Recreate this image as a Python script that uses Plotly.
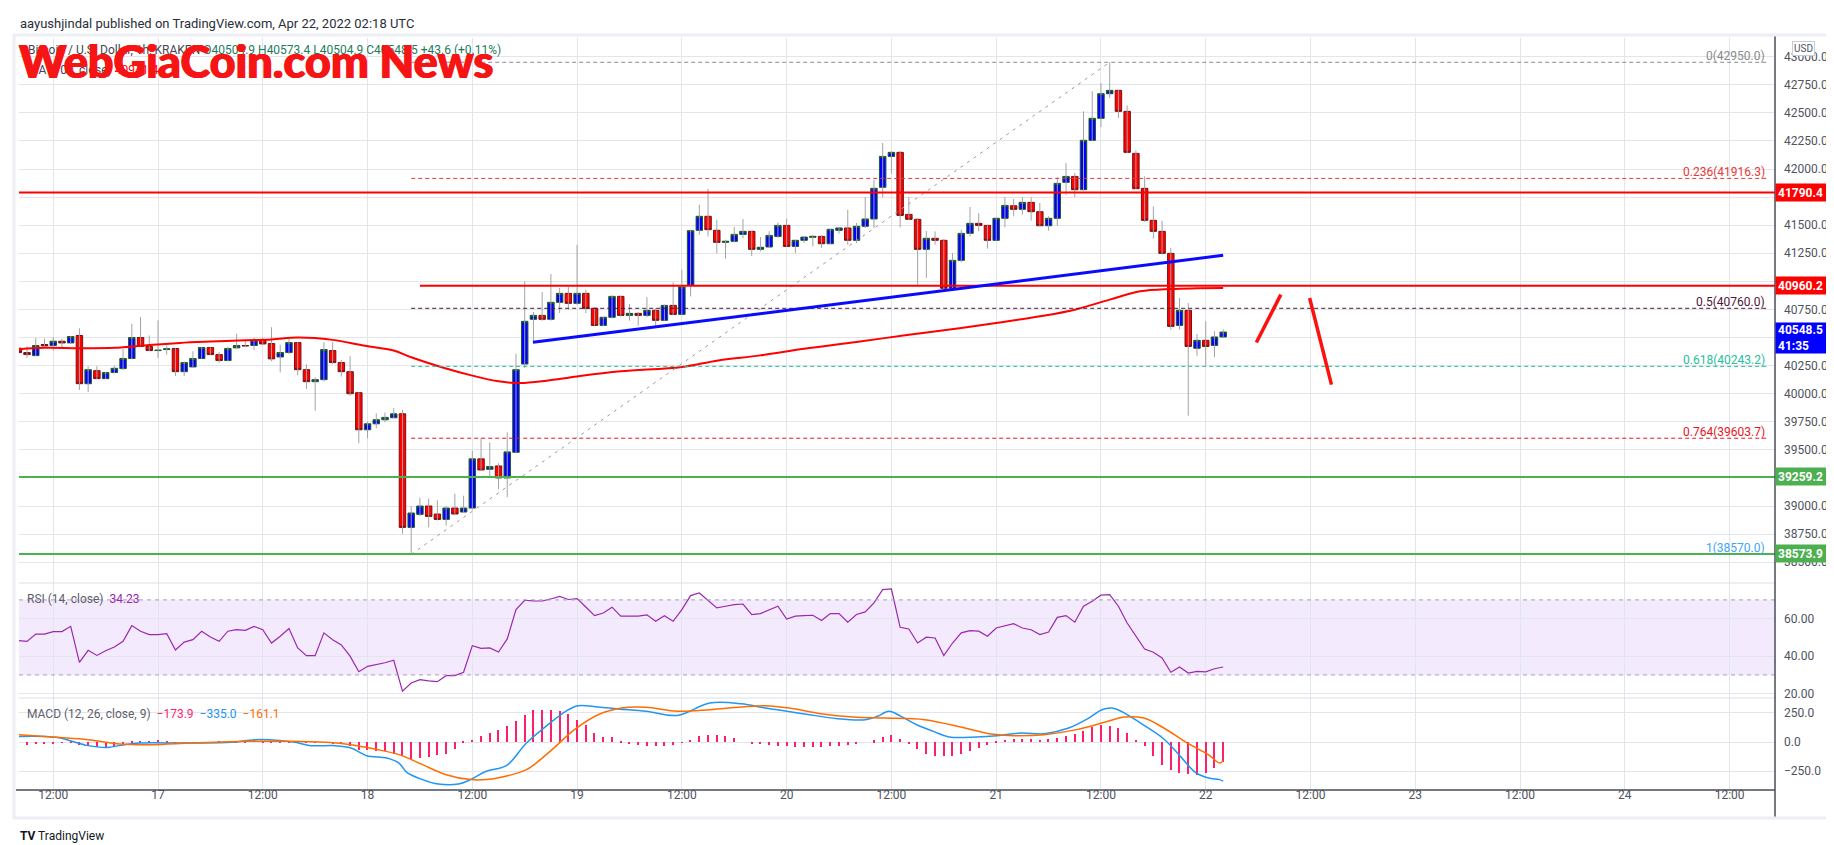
import pandas as pd
import plotly.graph_objects as go
from plotly.subplots import make_subplots

# hourly candles BTC/USD (Kraken), first candle 2022-04-16 08:00
t0 = pd.Timestamp("2022-04-16 08:00")

opens = [40405, 40366, 40339, 40438, 40429, 40467, 40452, 40518, 40089, 40205,
         40134, 40188, 40223, 40313, 40500, 40420, 40384, 40393, 40402, 40196,
         40238, 40313, 40411, 40348, 40295, 40408, 40429, 40429, 40476, 40446,
         40327, 40366, 40455, 40214, 40107, 40125, 40384, 40277, 40196, 40009,
         39679, 39732, 39768, 39786, 39821, 38810, 38926, 39000, 38929, 38881,
         38982, 38947, 38982, 39420, 39327, 39357, 39250, 39478, 40264, 40662,
         40697, 40662, 40813, 40893, 40804, 40893, 40760, 40608, 40680, 40866,
         40697, 40715, 40697, 40742, 40653, 40786, 40706, 40964, 41454, 41579,
         41454, 41347, 41356, 41418, 41445, 41285, 41306, 41400, 41498, 41311,
         41365, 41392, 41400, 41335, 41454, 41475, 41365, 41490, 41555, 41837,
         42112, 42148, 41596, 41552, 41285, 41383, 41365, 40938, 41187, 41427,
         41516, 41498, 41365, 41561, 41673, 41641, 41703, 41620, 41495, 41561,
         41881, 41934, 41816, 42255, 42451, 42670, 42700, 42513, 42139, 41828,
         41543, 41445, 41249, 40608, 40742, 40404, 40475, 40430, 40504.9]
highs = [40429, 40420, 40497, 40491, 40503, 40488, 40515, 40583, 40244, 40244,
         40193, 40250, 40399, 40622, 40682, 40518, 40652, 40429, 40405, 40286,
         40378, 40414, 40414, 40369, 40420, 40533, 40479, 40497, 40497, 40592,
         40435, 40491, 40461, 40262, 40146, 40458, 40458, 40301, 40333, 40012,
         39753, 39824, 39833, 39872, 39857, 39000, 39074, 39066, 39051, 39000,
         39110, 39092, 39491, 39604, 39566, 39381, 39655, 40356, 41000, 40727,
         40905, 41065, 40941, 40950, 41326, 40926, 40769, 40686, 40875, 40875,
         40798, 40727, 40860, 40763, 40792, 40991, 41104, 41460, 41682, 41822,
         41549, 41371, 41483, 41555, 41451, 41395, 41445, 41522, 41558, 41371,
         41400, 41412, 41409, 41469, 41481, 41638, 41519, 41751, 41905, 42231,
         42157, 42160, 41751, 41564, 41448, 41445, 41377, 41252, 41460, 41662,
         41608, 41504, 41570, 41751, 41733, 41748, 41748, 41697, 41579, 41928,
         42053, 41964, 42513, 42691, 42765, 42950, 42705, 42566, 42166, 41934,
         41667, 41540, 41297, 40852, 40807, 40531, 40644, 40555, 40573.4]
lows = [40354, 40318, 40336, 40408, 40384, 40408, 40443, 40033, 40015, 40131,
        40131, 40182, 40211, 40307, 40414, 40378, 40318, 40348, 40158, 40158,
        40235, 40310, 40345, 40274, 40289, 40405, 40414, 40390, 40429, 40289,
        40190, 40354, 40164, 40042, 39848, 40110, 40265, 40152, 39982, 39560,
        39604, 39693, 39744, 39783, 38753, 38570, 38911, 38810, 38872, 38825,
        38920, 38941, 38970, 39313, 39253, 39149, 39080, 39472, 40229, 40466,
        40650, 40650, 40718, 40748, 40792, 40718, 40605, 40602, 40668, 40686,
        40650, 40605, 40680, 40605, 40650, 40700, 40697, 40866, 41415, 41400,
        41249, 41202, 41347, 41386, 41225, 41267, 41297, 41386, 41306, 41252,
        41341, 41311, 41297, 41332, 41424, 41326, 41341, 41475, 41475, 41750,
        41958, 41480, 41543, 40970, 41030, 41326, 40932, 40932, 41169, 41400,
        41445, 41291, 41362, 41481, 41579, 41593, 41540, 41490, 41451, 41495,
        41771, 41750, 41807, 42252, 42374, 42632, 42454, 42142, 41822, 41528,
        41380, 41237, 40570, 40570, 39804, 40338, 40249, 40324, 40504.9]
closes = [40366, 40348, 40429, 40426, 40467, 40452, 40509, 40089, 40214, 40134,
          40188, 40226, 40313, 40500, 40420, 40384, 40387, 40399, 40196, 40277,
          40313, 40411, 40348, 40295, 40402, 40429, 40426, 40476, 40443, 40310,
          40366, 40455, 40214, 40107, 40125, 40393, 40277, 40196, 40000, 39679,
          39732, 39768, 39789, 39821, 38810, 38938, 39000, 38908, 38881, 38982,
          38929, 38982, 39420, 39321, 39351, 39250, 39482, 40214, 40644, 40697,
          40662, 40813, 40893, 40804, 40893, 40760, 40608, 40680, 40866, 40697,
          40715, 40697, 40742, 40653, 40786, 40706, 40950, 41451, 41579, 41460,
          41347, 41356, 41418, 41445, 41285, 41303, 41409, 41498, 41311, 41365,
          41394, 41400, 41335, 41463, 41475, 41365, 41490, 41555, 41828, 42112,
          42148, 41587, 41552, 41285, 41383, 41365, 40938, 41187, 41427, 41516,
          41498, 41365, 41561, 41676, 41641, 41703, 41620, 41495, 41561, 41872,
          41934, 41816, 42255, 42451, 42670, 42700, 42513, 42148, 41825, 41543,
          41445, 41249, 40599, 40742, 40421, 40475, 40421, 40504.9, 40548.5]

# MA(100) line, read at hour offsets from the first candle
ma_hours = [0, 3, 7, 11, 15, 18.5, 22, 26, 29, 32, 36, 39.5, 43, 45, 48.5, 52, 55,
            57.5, 60.5, 64, 69, 76, 80, 85, 90, 96, 102, 108, 112, 117, 121, 125,
            128.5, 132, 135, 138]
ma_vals = [40396, 40408, 40405, 40408, 40434, 40452, 40464, 40476, 40482, 40500,
           40479, 40429, 40384, 40324, 40235, 40161, 40110, 40095, 40116, 40154,
           40199, 40238, 40294, 40341, 40400, 40460, 40525, 40585, 40629, 40689,
           40748, 40837, 40911, 40932, 40938, 40941]

rsi = [48.3, 47.9, 51.8, 51.8, 53.1, 53.1, 55.9, 36.7, 43.1, 40.4,
       42.9, 44.9, 47.9, 56.3, 53.3, 51.5, 51.5, 52.0, 43.3, 47.5,
       48.8, 53.3, 50.2, 47.9, 53.3, 54.1, 53.8, 55.9, 54.1, 47.0,
       50.6, 54.7, 44.4, 40.3, 40.3, 52.4, 48.8, 46.0, 40.0, 31.7,
       34.6, 35.5, 36.5, 37.8, 21.3, 25.7, 27.5, 26.8, 26.4, 29.6,
       29.6, 31.4, 45.6, 44.2, 44.4, 42.2, 49.2, 64.8, 69.8, 69.5,
       69.4, 70.5, 71.9, 70.2, 70.7, 66.2, 61.6, 63.0, 66.1, 61.3,
       61.3, 61.3, 62.0, 58.6, 61.6, 58.6, 64.8, 72.3, 73.7, 69.8,
       65.7, 66.6, 67.5, 67.8, 62.1, 62.7, 64.8, 66.6, 59.8, 61.3,
       61.6, 61.8, 59.0, 62.7, 62.7, 58.1, 62.2, 63.6, 68.4, 75.5,
       75.8, 55.4, 54.5, 47.0, 50.1, 49.7, 40.3, 47.0, 52.4, 53.6,
       53.3, 50.6, 55.0, 56.3, 57.3, 55.0, 54.1, 51.5, 52.9, 60.7,
       61.6, 58.1, 66.6, 69.3, 72.5, 72.8, 66.6, 57.7, 50.6, 43.8,
       42.1, 39.0, 31.4, 34.2, 31.0, 31.9, 31.6, 33.3, 34.23]

macd_hist = [-28.5, -28.5, -17, -17, -11, -3, 3, -28, -37, -46,
             -46, -31, -9, 3, 6, 11, 20, 11, -3, -3,
             -6, -6, -3, 3, 6, 11, 11, 20, 11, -3,
             -3, -3, -3, -3, -6, -6, -11, -17, -37, -66,
             -66, -80, -80, -103, -123, -151, -137, -131, -108, -100,
             -57, 5, 20, 50, 75, 100, 135, 180, 234, 271,
             277, 277, 263, 243, 191, 148, 80, 40, 43, 10,
             -15, -25, -30, -35, -35, -25, -5, 20, 49, 63,
             57, 49, 34, 0, -15, -20, -25, -30, -35, -40,
             -40, -45, -40, -35, -30, -25, -10, 0, 15, 40,
             57, 25, -15, -60, -100, -123, -123, -118, -100, -75,
             -50, -25, 5, 20, 25, 25, 22, 18, 25, 35,
             50, 65, 95, 130, 150, 135, 120, 77, 20, -37,
             -123, -194, -237, -265, -271, -280, -265, -223, -173.9]

macd_hours = [0, 4.3, 8, 10.2, 12.1, 13.9, 19.8, 24.4, 27.1, 29.9, 31.7, 33.5,
              36.3, 38.1, 39.9, 42.2, 43.6, 44.5, 46.3, 48.1, 50.4, 51.8, 53.6,
              55.9, 58.2, 60.9, 62.7, 64.1, 66.4, 68.7, 71.9, 75.5, 79.2, 82.8,
              85.6, 90.1, 93.8, 97, 98.4, 99.7, 101.1, 102.9, 104.8, 106.6, 109.8,
              112.1, 114.8, 117.5, 120.3, 122.6, 124.1, 125.3, 126.7, 128.5,
              131.2, 133.1, 134.9, 136.3, 137.6, 138]
macd_vals = [48, 40, -31, -46, -23, -9, -9, -3, 20, 14, -3, -31,
             -31, -51, -117, -137, -180, -260, -322, -360, -360, -322, -251,
             -203, -9, 163, 263, 311, 300, 283, 263, 228, 334, 328,
             291, 240, 200, 191, 220, 263, 220, 148, 91, 43, 43,
             54, 77, 71, 120, 205, 277, 291, 248, 163,
             26, -123, -265, -308, -322, -335]
signal_hours = [0, 4.3, 8, 11.6, 15.3, 19.8, 26.2, 30.8, 35.3, 38.1, 40.8, 43.6,
                46.3, 49, 51.8, 53.6, 55.4, 58.2, 60.9, 63.7, 66.4, 69.1, 71.9,
                75.5, 79.2, 82.8, 85.6, 88.3, 91.9, 95.6, 99.3, 103.8, 108.4,
                111.2, 113.9, 117.5, 121.2, 124.8, 126.7, 128.9, 131.2, 133.9,
                136.3, 137.6, 138]
signal_vals = [63, 40, 20, -17, -23, -9, 6, 6, -3, -23, -60, -108,
               -194, -280, -322, -322, -300, -237, -80, 106, 234, 291, 297,
               263, 277, 300, 311, 291, 243, 214, 205, 191, 120,
               71, 54, 63, 106, 177, 214, 205, 120, -9,
               -108, -180, -161.1]

# drawings on the chart
fib_labels = ["0", "0.236", "0.5", "0.618", "0.764", "1"]
fib_prices = [42950.0, 41916.3, 40760.0, 40243.2, 39603.7, 38570.0]
fib_colors = ["#8a8a8a", "#e53935", "#4b1836", "#26c09a", "#e8141e", "#42a5f5"]
fib_start_hour = 45
fib_end_hour = 200.5
fib_diag = [(45, 38570.0), (125, 42950.0)]

red_levels = [41790.4, 40960.2]
red_level_start = [0, 46]
green_levels = [39259.2, 38573.9]
trend_line = [(58.95, 40457), (138, 41232)]
arrow_strokes = [[(141.8, 40456), (144.6, 40882)], [(147.9, 40852), (150.4, 40081)]]

tick_times = ["2022-04-16 12:00", "2022-04-17 00:00", "2022-04-17 12:00", "2022-04-18 00:00",
              "2022-04-18 12:00", "2022-04-19 00:00", "2022-04-19 12:00", "2022-04-20 00:00",
              "2022-04-20 12:00", "2022-04-21 00:00", "2022-04-21 12:00", "2022-04-22 00:00",
              "2022-04-22 12:00", "2022-04-23 00:00", "2022-04-23 12:00", "2022-04-24 00:00",
              "2022-04-24 12:00"]
tick_text = ["12:00", "17", "12:00", "18", "12:00", "19", "12:00", "20", "12:00",
             "21", "12:00", "22", "12:00", "23", "12:00", "24", "12:00"]
price_ticks = [38500 + 250 * i for i in range(19)]

W, H = 1834, 845
L, R, T, B = 11, 67, 30, 63
FONT = "Roboto, Arial, sans-serif"
GRID = "#e3e5ec"
TXT = "#50535e"


def at(h):
    return t0 + pd.Timedelta(hours=h)


def px(X):
    return (X - L) / (W - L - R)


def py(Y):
    return (H - B - Y) / (H - T - B)


times = pd.date_range(t0, periods=len(opens), freq="h")

fig = make_subplots(rows=3, cols=1, shared_xaxes=True, vertical_spacing=0)

# wicks
wx, wy = [], []
for t, hi, lo in zip(times, highs, lows):
    wx += [t, t, None]
    wy += [lo, hi, None]
fig.add_trace(go.Scatter(x=wx, y=wy, mode="lines", line=dict(color="#a3a3a3", width=1),
                         hoverinfo="skip", showlegend=False), row=1, col=1)

body_hi = [max(o, c) for o, c in zip(opens, closes)]
body_lo = [min(o, c) for o, c in zip(opens, closes)]
fig.add_trace(go.Candlestick(x=times, open=opens, close=closes, high=body_hi, low=body_lo,
                             increasing=dict(fillcolor="#0000ff", line=dict(color="#1e5a28", width=1)),
                             decreasing=dict(fillcolor="#ff0000", line=dict(color="#7a1010", width=1)),
                             whiskerwidth=0, showlegend=False), row=1, col=1)

fig.add_trace(go.Scatter(x=[at(h) for h in ma_hours], y=ma_vals, mode="lines",
                         line=dict(color="#ff0000", width=2, shape="spline"),
                         showlegend=False), row=1, col=1)

# RSI
fig.add_trace(go.Scatter(x=times, y=rsi, mode="lines", line=dict(color="#9c27b0", width=1.2),
                         showlegend=False), row=2, col=1)

# MACD
fig.add_trace(go.Bar(x=times, y=macd_hist, width=3600 * 1000 * 0.14,
                     marker=dict(color="#ff1e6e", line=dict(width=0)), showlegend=False),
              row=3, col=1)
fig.add_trace(go.Scatter(x=[at(h) for h in macd_hours], y=macd_vals, mode="lines",
                         line=dict(color="#2196f3", width=1.5, shape="spline"),
                         showlegend=False), row=3, col=1)
fig.add_trace(go.Scatter(x=[at(h) for h in signal_hours], y=signal_vals, mode="lines",
                         line=dict(color="#ff6d00", width=1.5, shape="spline"),
                         showlegend=False), row=3, col=1)

shapes = []
# RSI band
shapes.append(dict(type="rect", xref="paper", yref="y2", x0=0, x1=1, y0=30, y1=70,
                   fillcolor="rgba(149,76,233,0.11)", line=dict(width=0), layer="below"))
for lv in (70, 30):
    shapes.append(dict(type="line", xref="paper", yref="y2", x0=0, x1=1, y0=lv, y1=lv,
                       line=dict(color="#a79cbf", width=1, dash="4px,4px")))

# fib retracement
shapes.append(dict(type="line", xref="x", yref="y", x0=at(fib_diag[0][0]), y0=fib_diag[0][1],
                   x1=at(fib_diag[1][0]), y1=fib_diag[1][1],
                   line=dict(color="#9a9a9a", width=1, dash="3px,5px")))
for p, c in zip(fib_prices, fib_colors):
    shapes.append(dict(type="line", xref="x", yref="y", x0=at(fib_start_hour), x1=at(fib_end_hour),
                       y0=p, y1=p, line=dict(color=c, width=1, dash="4px,3px")))

# support / resistance lines
for lv, h0 in zip(red_levels, red_level_start):
    shapes.append(dict(type="line", xref="x", yref="y", x0=at(h0), x1=at(201.3), y0=lv, y1=lv,
                       line=dict(color="#ff0000", width=2)))
for lv in green_levels:
    shapes.append(dict(type="line", xref="x", yref="y", x0=at(0), x1=at(201.3), y0=lv, y1=lv,
                       line=dict(color="#4caf50", width=2)))
shapes.append(dict(type="line", xref="x", yref="y", x0=at(trend_line[0][0]), y0=trend_line[0][1],
                   x1=at(trend_line[1][0]), y1=trend_line[1][1],
                   line=dict(color="#0a0aff", width=3)))
for (a, b) in arrow_strokes:
    shapes.append(dict(type="line", xref="x", yref="y", x0=at(a[0]), y0=a[1], x1=at(b[0]), y1=b[1],
                       line=dict(color="#ff1010", width=3.5)))

# pane separators, axis lines, outer frame
for Y in (575, 690):
    shapes.append(dict(type="line", xref="paper", yref="paper", x0=0, x1=1, y0=py(Y), y1=py(Y),
                       line=dict(color="#dcdfe6", width=1)))
shapes.append(dict(type="line", xref="paper", yref="paper", x0=px(8), x1=1, y0=py(782), y1=py(782),
                   line=dict(color="#4a4d57", width=1.5)))
shapes.append(dict(type="line", xref="paper", yref="paper", x0=1, x1=1, y0=py(810), y1=py(28),
                   line=dict(color="#4a4d57", width=1.5)))
shapes.append(dict(type="line", xref="paper", yref="paper", x0=px(6), x1=px(1826), y0=py(27), y1=py(27),
                   line=dict(color="#e6e8ee", width=1.5)))
shapes.append(dict(type="rect", xref="paper", yref="paper", x0=px(6), x1=px(1824), y0=py(810), y1=py(27),
                   line=dict(color="#eceef4", width=3), fillcolor="rgba(0,0,0,0)"))

ann = []
ann.append(dict(xref="paper", yref="paper", x=px(10), y=py(15), xanchor="left", yanchor="middle",
                text="aayushjindal published on TradingView.com, Apr 22, 2022 02:18 UTC",
                showarrow=False, font=dict(size=13, color="#2a2e39")))
ann.append(dict(xref="paper", yref="paper", x=px(18), y=py(42), xanchor="left", yanchor="middle",
                text="Bitcoin / U.S. Dollar, 1h, KRAKEN <span style='color:#1e7a5a'>O40504.9 H40573.4 "
                     "L40504.9 C40548.5 +43.6 (+0.11%)</span>",
                showarrow=False, font=dict(size=12, color="#434651")))
ann.append(dict(xref="paper", yref="paper", x=px(18), y=py(62), xanchor="left", yanchor="middle",
                text="MA (100, close) <span style='color:#ff0000'>40941.4</span>",
                showarrow=False, font=dict(size=12, color="#434651")))
ann.append(dict(xref="paper", yref="paper", x=px(9), y=py(53), xanchor="left", yanchor="middle",
                text="WebGiaCoin.com News", showarrow=False,
                font=dict(size=45, color="#f71414", family="Lato, Arial, sans-serif", weight=900,
                          shadow="0.7px 0 0 #f71414, -0.7px 0 0 #f71414")))

# fib labels
for lab, p, c in zip(fib_labels, fib_prices, fib_colors):
    ann.append(dict(xref="paper", yref="y", x=px(1759), y=p, xanchor="right", yanchor="bottom",
                    yshift=-3, text=f"{lab}({p:.1f})", showarrow=False,
                    font=dict(size=12, color=c)))

# price tags on the right axis
tags = [(41790.4, "41790.4", "#ff0000"), (40960.2, "40960.2", "#ff0000"),
        (39259.2, "39259.2", "#4caf50"), (38573.9, "38573.9", "#4caf50")]
for p, s, c in tags:
    ann.append(dict(xref="paper", yref="y", x=1, y=p, xanchor="left", yanchor="middle",
                    text=f"<b>{s}</b>", showarrow=False, bgcolor=c, width=48, height=13,
                    borderpad=2, align="left", font=dict(size=12, color="white")))
ann.append(dict(xref="paper", yref="y", x=1, y=40548.5, xanchor="left", yanchor="middle",
                yshift=-6, text="<b>40548.5</b><br><b>41:35</b>", showarrow=False, bgcolor="#0000ff",
                width=48, height=26, borderpad=2, align="left",
                font=dict(size=12, color="white")))
ann.append(dict(xref="paper", yref="paper", x=px(1795), y=py(40), xanchor="center", yanchor="middle",
                text="USD", showarrow=False, bgcolor="white", bordercolor="#c9ccd4", borderwidth=1,
                borderpad=1, font=dict(size=10, color=TXT)))

# indicator legends
ann.append(dict(xref="paper", yref="paper", x=px(17), y=py(591), xanchor="left", yanchor="middle",
                text="RSI (14, close)  <span style='color:#9c27b0'>34.23</span>", showarrow=False,
                font=dict(size=12, color="#5d606b")))
ann.append(dict(xref="paper", yref="paper", x=px(17), y=py(706), xanchor="left", yanchor="middle",
                text="MACD (12, 26, close, 9)  <span style='color:#ff1e6e'>\u2212173.9</span>  "
                     "<span style='color:#2196f3'>\u2212335.0</span>  "
                     "<span style='color:#ff6d00'>\u2212161.1</span>",
                showarrow=False, font=dict(size=12, color="#5d606b")))
ann.append(dict(xref="paper", yref="paper", x=px(10), y=py(828), xanchor="left", yanchor="middle",
                text="<b>TV</b> TradingView", showarrow=False, font=dict(size=12, color="#131722")))

price_domain = [py(575), 1]
rsi_domain = [py(690), py(575)]
macd_domain = [0, py(690)]

yax = dict(side="right", showgrid=True, gridcolor=GRID, zeroline=False, showline=False,
           ticks="", ticklabelstandoff=8, tickfont=dict(size=12, color=TXT))
fig.update_layout(
    width=W, height=H, margin=dict(l=L, r=R, t=T, b=B),
    paper_bgcolor="white", plot_bgcolor="white",
    font=dict(family=FONT, color=TXT),
    showlegend=False, boxgap=0.26, boxgroupgap=0, bargap=0,
    shapes=shapes, annotations=ann,
    yaxis=dict(yax, domain=price_domain, range=[38315, 43166], tickvals=price_ticks,
               ticktext=[f"{v:.1f}" for v in price_ticks]),
    yaxis2=dict(yax, domain=rsi_domain, range=[17.7, 79.0], tickvals=[20, 40, 60],
                ticktext=["20.00", "40.00", "60.00"]),
    yaxis3=dict(yax, domain=macd_domain, range=[-411, 377], tickvals=[-250, 0, 250],
                ticktext=["\u2212250.0", "0.0", "250.0"]),
)
fig.update_xaxes(range=[at(0.08), at(201.2)], tickvals=tick_times, ticktext=tick_text,
                 showgrid=True, gridcolor=GRID, zeroline=False, showline=False,
                 rangeslider_visible=False, ticks="", tickfont=dict(size=12, color=TXT))
fig.update_xaxes(showticklabels=False, row=1, col=1)
fig.update_xaxes(showticklabels=False, row=2, col=1)
fig.update_xaxes(showticklabels=True, ticklabelstandoff=-4, row=3, col=1)

fig.write_html("out.html")
